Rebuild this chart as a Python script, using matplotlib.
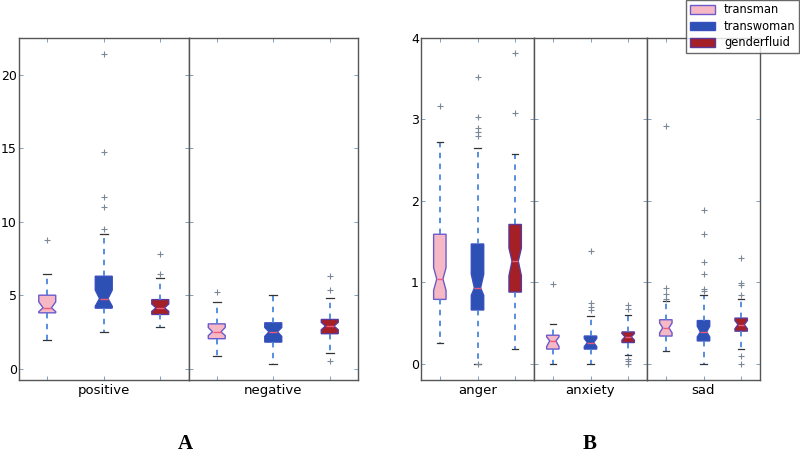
import matplotlib
matplotlib.use("Agg")
import matplotlib.pyplot as plt
from matplotlib.patches import Patch

groups = ["transman", "transwoman", "genderfluid"]
panel_a = ["positive", "negative"]
panel_b = ["anger", "anxiety", "sad"]

face_colors = ["#F7B8C6", "#2C50B4", "#A51F26"]
edge_colors = ["#6A5ACD", "#3A4FC0", "#5A3A9A"]

whislo = {
    "positive": [1.92, 2.49, 2.85],
    "negative": [0.88, 0.34, 1.06],
    "anger": [0.26, 0.0, 0.18],
    "anxiety": [0.0, 0.0, 0.11],
    "sad": [0.16, 0.0, 0.18],
}
q1 = {
    "positive": [3.8, 4.12, 3.69],
    "negative": [2.04, 1.81, 2.38],
    "anger": [0.79, 0.66, 0.88],
    "anxiety": [0.18, 0.18, 0.26],
    "sad": [0.34, 0.28, 0.40],
}
med = {
    "positive": [4.14, 4.77, 4.14],
    "negative": [2.51, 2.51, 2.90],
    "anger": [1.04, 0.93, 1.26],
    "anxiety": [0.28, 0.26, 0.33],
    "sad": [0.44, 0.39, 0.48],
}
q3 = {
    "positive": [5.0, 6.29, 4.7],
    "negative": [3.05, 3.12, 3.35],
    "anger": [1.59, 1.47, 1.71],
    "anxiety": [0.35, 0.34, 0.39],
    "sad": [0.54, 0.53, 0.56],
}
whishi = {
    "positive": [6.45, 9.14, 6.15],
    "negative": [4.52, 5.0, 4.8],
    "anger": [2.72, 2.65, 2.58],
    "anxiety": [0.49, 0.58, 0.60],
    "sad": [0.77, 0.85, 0.79],
}
cilo = {
    "positive": [3.88, 4.25, 3.90],
    "negative": [2.25, 2.20, 2.65],
    "anger": [0.90, 0.84, 1.08],
    "anxiety": [0.21, 0.21, 0.29],
    "sad": [0.38, 0.33, 0.43],
}
cihi = {
    "positive": [4.55, 5.35, 4.40],
    "negative": [2.80, 2.80, 3.15],
    "anger": [1.18, 1.10, 1.42],
    "anxiety": [0.33, 0.31, 0.37],
    "sad": [0.50, 0.46, 0.53],
}
fliers = {
    "positive": [[8.73], [21.4, 14.77, 11.67, 11.0, 9.52], [7.8, 6.47]],
    "negative": [[5.2], [], [6.31, 5.38, 0.52]],
    "anger": [[3.17], [3.52, 3.03, 2.9, 2.84, 2.8, 0.0], [3.81, 3.08]],
    "anxiety": [[0.98], [1.38, 0.74, 0.70, 0.66], [0.72, 0.67, 0.06, 0.03, 0.0]],
    "sad": [[2.92, 0.93, 0.86, 0.80], [1.89, 1.59, 1.25, 1.1, 0.92, 0.89], [1.3, 0.99, 0.97, 0.85, 0.09, 0.0]],
}

fig = plt.figure(figsize=(8.0, 4.58), dpi=100)
fig.patch.set_facecolor("white")

spine_color = "#555555"


def draw_cat(ax, cat, box_width):
    stats = []
    for i in range(3):
        stats.append(dict(
            whislo=whislo[cat][i], q1=q1[cat][i], med=med[cat][i],
            q3=q3[cat][i], whishi=whishi[cat][i],
            cilo=cilo[cat][i], cihi=cihi[cat][i],
            fliers=fliers[cat][i], label=groups[i]))
    res = ax.bxp(stats, positions=[1, 2, 3], widths=box_width,
                 shownotches=True, patch_artist=True,
                 whiskerprops=dict(color="#4A86DC", linestyle=(0, (3, 3)), linewidth=1.3),
                 capprops=dict(color="#333333", linewidth=0.9),
                 medianprops=dict(color="#F05A78", linewidth=1.0),
                 flierprops=dict(marker="+", markeredgecolor="#7A8898", markersize=5,
                                 markeredgewidth=0.8, linestyle="none"),
                 capwidths=box_width * 0.5)
    for i, b in enumerate(res["boxes"]):
        b.set_facecolor(face_colors[i])
        b.set_edgecolor(edge_colors[i])
        b.set_linewidth(1.0)
    ax.set_xlim(0.5, 3.5)
    ax.set_xticks([1, 2, 3])
    ax.set_xticklabels(["", cat, ""])
    ax.tick_params(direction="in", top=True, right=True, length=3,
                   width=0.6, color="#7090B0", labelsize=9.5, pad=3)
    ax.tick_params(axis="y", labelsize=9, pad=1.5)
    for s in ax.spines.values():
        s.set_color(spine_color)
        s.set_linewidth(1.0)


bottom, top = 1 - 380 / 458, 1 - 38 / 458

# Panel A
a_left, a_right = 19 / 800, 358 / 800
w_a = (a_right - a_left) / 2
for k, cat in enumerate(panel_a):
    ax = fig.add_axes([a_left + k * w_a, bottom, w_a, top - bottom])
    draw_cat(ax, cat, 0.3)
    ax.set_ylim(-0.77, 22.5)
    ax.set_yticks([0, 5, 10, 15, 20])
    if k > 0:
        ax.set_yticklabels([])

# Panel B
b_left, b_right = 421 / 800, 760 / 800
w_b = (b_right - b_left) / 3
for k, cat in enumerate(panel_b):
    ax = fig.add_axes([b_left + k * w_b, bottom, w_b, top - bottom])
    draw_cat(ax, cat, 0.33)
    ax.set_ylim(-0.2, 4.0)
    ax.set_yticks([0, 1, 2, 3, 4])
    if k > 0:
        ax.set_yticklabels([])

handles = [Patch(facecolor=face_colors[i], edgecolor=edge_colors[i], label=groups[i])
           for i in range(3)]
leg = fig.legend(handles=handles, loc="upper right", bbox_to_anchor=(0.999, 1.0),
                 fontsize=8.3, frameon=True, fancybox=False, borderpad=0.3,
                 labelspacing=0.3, handlelength=2.2, handleheight=0.8,
                 handletextpad=0.8, borderaxespad=0.0)
leg.get_frame().set_edgecolor("#444444")
leg.get_frame().set_linewidth(1.0)

fig.text(185 / 800, 1 - 444 / 458, "A", ha="center", va="center",
         fontsize=15, fontweight="bold", family=["Liberation Serif", "DejaVu Serif"])
fig.text(590 / 800, 1 - 444 / 458, "B", ha="center", va="center",
         fontsize=15, fontweight="bold", family=["Liberation Serif", "DejaVu Serif"])

fig.savefig("out.png", dpi=100, facecolor="white")
